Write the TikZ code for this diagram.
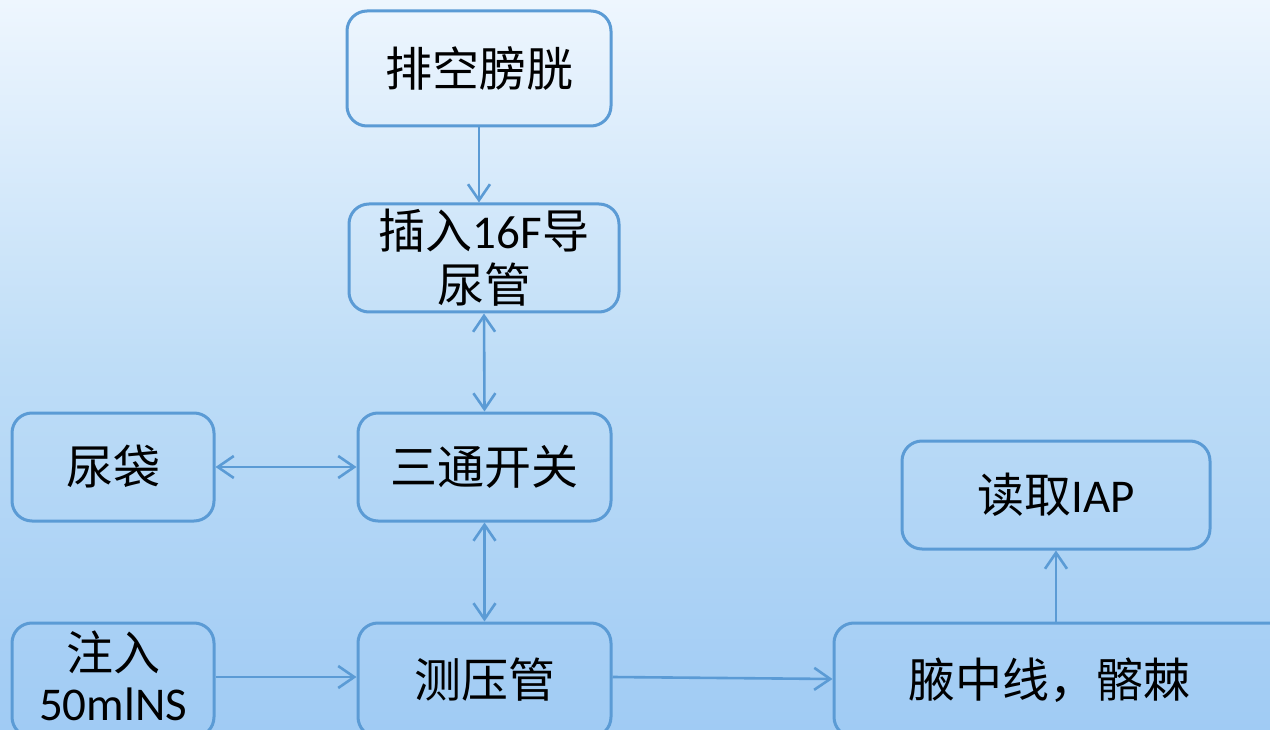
\documentclass[tikz,border=0pt]{standalone}
\usepackage{fontspec}
\setmainfont{Carlito}
\newfontfamily\cjk{Noto Sans CJK SC}
\usetikzlibrary{arrows.meta}
\definecolor{bgtop}{HTML}{EEF6FE}
\definecolor{bgmid}{HTML}{BEDDF7}
\definecolor{bgbot}{HTML}{A0CBF4}
\definecolor{edge}{HTML}{5B9BD5}
\tikzset{
  boxtext/.style={inner sep=0pt, align=center, font=\fontsize{47}{56}\selectfont, text=black},
  box/.style={boxtext, draw=edge, line width=3pt, rounded corners=20pt},
  link/.style={draw=edge, line width=2.6pt, -{Straight Barb[length=16pt,width=22pt,line width=2.6pt]}},
  dlink/.style={draw=edge, line width=2.6pt, {Straight Barb[length=16pt,width=22pt,line width=2.6pt]}-{Straight Barb[length=16pt,width=22pt,line width=2.6pt]}}
}
\begin{document}
\begin{tikzpicture}[x=1pt,y=-1pt]
\useasboundingbox (0,0) rectangle (1270,730);
\shade[top color=bgtop, bottom color=bgbot, middle color=bgmid] (0,0) rectangle (1270,730);
\begin{scope}
\clip (0,0) rectangle (1270,730);
\node[box, minimum width=264pt, minimum height=115pt] (empty) at (479,68.5) {\cjk 排空膀胱};
\node[box, minimum width=270pt, minimum height=108pt] (cath) at (484,258) {{\cjk 插入}16F{\cjk 导}\\[-2pt]{\cjk 尿管}};
\node[box, minimum width=202pt, minimum height=108pt] (bag) at (113,467) {\cjk 尿袋};
\node[box, minimum width=253pt, minimum height=108pt] (valve) at (484.5,467) {\cjk 三通开关};
\node[box, minimum width=202pt, minimum height=114pt] (inject) at (113,680) {};
\node[boxtext] (injectlbl) at (113,676) {{\cjk 注入}\\[-6pt]50mlNS};
\node[box, minimum width=253pt, minimum height=114pt] (tube) at (484.5,680) {\cjk 测压管};
\node[box, minimum width=460pt, minimum height=114pt] (axil) at (1064,680) {\hspace*{-30pt}\cjk 腋中线，髂棘};
\node[box, minimum width=308pt, minimum height=108pt] (read) at (1056,495) {{\cjk 读取}IAP};
\end{scope}
\draw[link] (empty.south -| 479,0) -- (cath.north -| 479,0);
\draw[dlink] (cath.south) -- (valve.north);
\draw[dlink] (bag.east) -- (valve.west);
\draw[dlink] (valve.south) -- (tube.north);
\draw[link] (inject.east |- 0,677) -- (tube.west |- 0,677);
\draw[link] (tube.east |- 0,677) -- (axil.west |- 0,679);
\draw[link] (axil.north -| 1056,0) -- (read.south);
\end{tikzpicture}
\end{document}
